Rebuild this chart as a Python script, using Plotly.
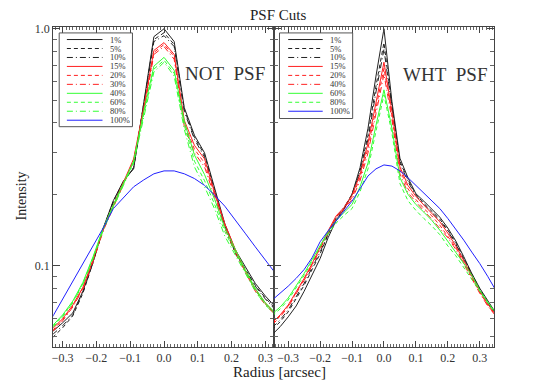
import plotly.graph_objects as go

# radius grids [arcsec]
x_not = [-0.33, -0.30, -0.27, -0.24, -0.21, -0.18, -0.15, -0.12, -0.09, -0.06, -0.03, 0.0,
         0.03, 0.06, 0.09, 0.12, 0.15, 0.18, 0.21, 0.24, 0.27, 0.30, 0.33]
x_wht = [-0.35, -0.325, -0.30, -0.275, -0.25, -0.225, -0.20, -0.175, -0.15, -0.125, -0.10,
         -0.075, -0.05, -0.025, 0.0, 0.025, 0.05, 0.075, 0.10, 0.125, 0.15, 0.175, 0.20,
         0.225, 0.25, 0.275, 0.30, 0.325, 0.35]

# NOT PSF cuts
not_labels = ["1%", "5%", "10%", "15%", "20%", "30%", "40%", "60%", "80%", "100%"]
not_1 = [0.0526, 0.0573, 0.0631, 0.0779, 0.104, 0.144, 0.188, 0.228, 0.256, 0.482, 0.926, 1.0,
         0.883, 0.464, 0.355, 0.299, 0.211, 0.150, 0.117, 0.0990, 0.0841, 0.0743, 0.0668]
not_5 = [0.0496, 0.0546, 0.0613, 0.0764, 0.103, 0.143, 0.187, 0.226, 0.259, 0.473, 0.900, 0.962,
         0.858, 0.455, 0.348, 0.293, 0.207, 0.147, 0.114, 0.0972, 0.0825, 0.0729, 0.0656]
not_10 = [0.0511, 0.0557, 0.0619, 0.0772, 0.103, 0.143, 0.185, 0.224, 0.259, 0.469, 0.883, 0.935,
          0.841, 0.447, 0.341, 0.287, 0.203, 0.145, 0.113, 0.0962, 0.0818, 0.0722, 0.0649]
not_15 = [0.0541, 0.0596, 0.0681, 0.0810, 0.106, 0.143, 0.180, 0.226, 0.282, 0.464, 0.810, 0.874,
          0.779, 0.410, 0.322, 0.282, 0.203, 0.150, 0.118, 0.0953, 0.0794, 0.0695, 0.0625]
not_20 = [0.0531, 0.0590, 0.0675, 0.0802, 0.105, 0.141, 0.178, 0.224, 0.279, 0.455, 0.794, 0.858,
          0.764, 0.398, 0.310, 0.271, 0.198, 0.147, 0.115, 0.0944, 0.0787, 0.0688, 0.0619]
not_30 = [0.0526, 0.0584, 0.0668, 0.0794, 0.104, 0.140, 0.176, 0.222, 0.276, 0.447, 0.779, 0.841,
          0.743, 0.387, 0.299, 0.261, 0.192, 0.144, 0.114, 0.0935, 0.0779, 0.0681, 0.0619]
not_40 = [0.0557, 0.0619, 0.0708, 0.0849, 0.109, 0.144, 0.180, 0.224, 0.276, 0.447, 0.695, 0.757,
          0.668, 0.406, 0.293, 0.242, 0.190, 0.144, 0.117, 0.0962, 0.0802, 0.0695, 0.0631]
not_60 = [0.0552, 0.0613, 0.0701, 0.0841, 0.108, 0.143, 0.178, 0.222, 0.274, 0.434, 0.675, 0.736,
          0.649, 0.391, 0.276, 0.228, 0.181, 0.139, 0.114, 0.0944, 0.0787, 0.0688, 0.0625]
not_80 = [0.0546, 0.0607, 0.0695, 0.0833, 0.107, 0.141, 0.176, 0.220, 0.271, 0.422, 0.656, 0.722,
          0.631, 0.376, 0.261, 0.215, 0.173, 0.133, 0.111, 0.0926, 0.0779, 0.0681, 0.0619]
not_100 = [0.0607, 0.0722, 0.0858, 0.102, 0.122, 0.144, 0.174, 0.194, 0.215, 0.230, 0.244, 0.251,
           0.251, 0.244, 0.233, 0.218, 0.198, 0.178, 0.157, 0.137, 0.120, 0.106, 0.0926]

# WHT PSF cuts
wht_labels = ["1%", "5%", "10%", "15%", "20%", "40%", "60%", "80%", "100%"]
wht_1 = [0.0511, 0.0552, 0.0607, 0.0675, 0.0779, 0.0917, 0.107, 0.131, 0.155, 0.173, 0.200, 0.259,
         0.380, 0.631, 1.0, 0.492, 0.284, 0.235, 0.201, 0.187, 0.173, 0.160, 0.144, 0.127, 0.109,
         0.0926, 0.0802, 0.0708, 0.0631]
wht_5 = [0.0536, 0.0579, 0.0637, 0.0722, 0.0825, 0.0962, 0.112, 0.135, 0.158, 0.174, 0.200, 0.251,
         0.355, 0.573, 0.874, 0.473, 0.276, 0.230, 0.200, 0.183, 0.170, 0.157, 0.141, 0.125, 0.107,
         0.0917, 0.0794, 0.0701, 0.0625]
wht_10 = [0.0546, 0.0590, 0.0649, 0.0736, 0.0841, 0.0981, 0.114, 0.136, 0.160, 0.176, 0.200, 0.246,
          0.341, 0.541, 0.818, 0.464, 0.271, 0.226, 0.198, 0.181, 0.168, 0.155, 0.140, 0.123, 0.106,
          0.0909, 0.0787, 0.0695, 0.0625]
wht_15 = [0.0573, 0.0619, 0.0681, 0.0772, 0.0883, 0.102, 0.120, 0.140, 0.162, 0.176, 0.198, 0.242,
          0.329, 0.492, 0.722, 0.447, 0.261, 0.218, 0.196, 0.180, 0.166, 0.153, 0.137, 0.121, 0.105,
          0.0900, 0.0779, 0.0688, 0.0619]
wht_20 = [0.0568, 0.0613, 0.0675, 0.0764, 0.0874, 0.101, 0.119, 0.139, 0.160, 0.174, 0.194, 0.235,
          0.313, 0.464, 0.681, 0.430, 0.254, 0.211, 0.190, 0.174, 0.162, 0.148, 0.133, 0.119, 0.103,
          0.0891, 0.0772, 0.0681, 0.0613]
wht_40 = [0.0562, 0.0607, 0.0668, 0.0757, 0.0866, 0.100, 0.118, 0.137, 0.158, 0.173, 0.190, 0.228,
          0.299, 0.438, 0.643, 0.414, 0.244, 0.203, 0.185, 0.170, 0.157, 0.144, 0.131, 0.117, 0.101,
          0.0883, 0.0764, 0.0675, 0.0613]
wht_60 = [0.0625, 0.0668, 0.0729, 0.0818, 0.0926, 0.106, 0.122, 0.139, 0.155, 0.168, 0.181, 0.215,
          0.271, 0.391, 0.552, 0.380, 0.235, 0.200, 0.181, 0.168, 0.155, 0.141, 0.127, 0.114, 0.102,
          0.0909, 0.0787, 0.0701, 0.0631]
wht_80 = [0.0613, 0.0656, 0.0715, 0.0802, 0.0909, 0.104, 0.120, 0.136, 0.151, 0.163, 0.174, 0.205,
          0.256, 0.369, 0.526, 0.362, 0.222, 0.188, 0.171, 0.158, 0.147, 0.135, 0.121, 0.110, 0.0981,
          0.0874, 0.0772, 0.0695, 0.0625]
wht_100 = [0.0715, 0.0764, 0.0818, 0.0883, 0.0962, 0.108, 0.126, 0.140, 0.154, 0.171, 0.187, 0.211,
           0.239, 0.256, 0.266, 0.263, 0.251, 0.235, 0.218, 0.203, 0.188, 0.174, 0.158, 0.143, 0.128,
           0.114, 0.102, 0.0900, 0.0787]

not_series = [not_1, not_5, not_10, not_15, not_20, not_30, not_40, not_60, not_80, not_100]
wht_series = [wht_1, wht_5, wht_10, wht_15, wht_20, wht_40, wht_60, wht_80, wht_100]

BLACK, RED, GREEN, BLUE = "#222222", "#ff2020", "#33ff33", "#2020ff"
DASH = "4px,3px"
DASHDOT = "6px,3px,1px,3px"
not_styles = [(BLACK, "solid"), (BLACK, DASH), (BLACK, DASHDOT),
              (RED, "solid"), (RED, DASH), (RED, DASHDOT),
              (GREEN, "solid"), (GREEN, DASH), (GREEN, DASHDOT),
              (BLUE, "solid")]
wht_styles = [(BLACK, "solid"), (BLACK, DASH), (BLACK, DASHDOT),
              (RED, "solid"), (RED, DASH), (RED, DASHDOT),
              (GREEN, "solid"), (GREEN, DASH),
              (BLUE, "solid")]

W, H = 550, 385
FONT = "Liberation Serif"


def px(x):
    return x / W


def py(y):
    return 1 - y / H


fig = go.Figure()

for lab, ys, (col, dash) in zip(not_labels, not_series, not_styles):
    fig.add_trace(go.Scatter(x=x_not, y=ys, mode="lines", name=lab, showlegend=False,
                             line=dict(color=col, width=1, dash=dash), xaxis="x", yaxis="y"))
for lab, ys, (col, dash) in zip(wht_labels, wht_series, wht_styles):
    fig.add_trace(go.Scatter(x=x_wht, y=ys, mode="lines", name=lab, showlegend=False,
                             line=dict(color=col, width=1, dash=dash), xaxis="x2", yaxis="y2"))

# hand-drawn legend boxes (IDL style)
shapes = []
annotations = []


def add_legend(x0, x1, y0, y1, lx0, lx1, tx, labels, styles):
    shapes.append(dict(type="rect", xref="paper", yref="paper", x0=px(x0), x1=px(x1),
                       y0=py(y1), y1=py(y0), line=dict(color="#555555", width=1)))
    for i, (lab, (col, dash)) in enumerate(zip(labels, styles)):
        yy = 35 + 9.08 * i
        shapes.append(dict(type="line", xref="paper", yref="paper", x0=px(lx0), x1=px(lx1),
                           y0=py(yy), y1=py(yy), line=dict(color=col, width=1, dash=dash)))
        annotations.append(dict(text=lab, xref="paper", yref="paper", x=px(tx), y=py(yy),
                                xanchor="left", yanchor="middle", showarrow=False,
                                font=dict(family=FONT, size=8.5, color="#333333")))


add_legend(58.3, 131.7, 28.3, 123.3, 66, 101.7, 107, not_labels, not_styles)
add_legend(279, 352.3, 28.3, 115, 287.7, 322.3, 327.5, wht_labels, wht_styles)

annotations += [
    dict(text="PSF Cuts", xref="paper", yref="paper", x=px(278), y=py(10), showarrow=False,
         xanchor="center", yanchor="middle", font=dict(family=FONT, size=15, color="#222222")),
    dict(text="Radius [arcsec]", xref="paper", yref="paper", x=px(279), y=py(372), showarrow=False,
         xanchor="center", yanchor="middle", font=dict(family=FONT, size=15, color="#222222")),
    dict(text="Intensity", xref="paper", yref="paper", x=px(21), y=py(193), showarrow=False,
         textangle=-90, xanchor="center", yanchor="middle",
         font=dict(family=FONT, size=14, color="#222222")),
    dict(text="NOT\u00a0 PSF", xref="paper", yref="paper", x=px(224), y=py(69), showarrow=False,
         xanchor="center", yanchor="middle", font=dict(family=FONT, size=19, color="#333333")),
    dict(text="WHT\u00a0 PSF", xref="paper", yref="paper", x=px(445), y=py(70), showarrow=False,
         xanchor="center", yanchor="middle", font=dict(family=FONT, size=19, color="#333333")),
]

xmaj = [-0.3, -0.2, -0.1, 0.0, 0.1, 0.2, 0.3]
xminor = [round(-0.34 + 0.01 * i, 2) for i in range(69)]
ymaj = [0.1, 1.0]
yminor = [0.05, 0.06, 0.07, 0.08, 0.09, 0.2, 0.3, 0.4, 0.5, 0.6, 0.7, 0.8, 0.9]

xcommon = dict(ticks="inside", ticklen=6, tickcolor="#444444", mirror="allticks",
               showline=True, linecolor="#444444", linewidth=1, showgrid=False, zeroline=False,
               tickmode="array", tickvals=xmaj, ticktext=["\u22120.3", "\u22120.2", "\u22120.1",
                                                          "0.0", "0.1", "0.2", "0.3"],
               tickfont=dict(family=FONT, size=12, color="#333333"),
               minor=dict(ticks="inside", ticklen=3, tickcolor="#666666",
                          tickmode="array", tickvals=xminor, showgrid=False))
ycommon = dict(type="log", range=[-1.342, 0.0086], domain=[py(346), py(22)],
               ticks="inside", ticklen=7, tickcolor="#444444", mirror="allticks",
               showline=True, linecolor="#444444", linewidth=1, showgrid=False, zeroline=False,
               tickmode="array", tickvals=ymaj, ticktext=["0.1", "1.0"],
               tickfont=dict(family=FONT, size=12, color="#333333"),
               minor=dict(ticks="inside", ticklen=4, tickcolor="#666666",
                          tickmode="array", tickvals=yminor, showgrid=False))

fig.update_layout(
    width=W, height=H,
    margin=dict(l=0, r=0, t=0, b=0),
    paper_bgcolor="white", plot_bgcolor="white",
    showlegend=False,
    xaxis=dict(xcommon, domain=[px(52.3), px(273)], range=[-0.328, 0.324], anchor="y"),
    yaxis=dict(ycommon, anchor="x"),
    xaxis2=dict(xcommon, domain=[px(273), px(494)], range=[-0.346, 0.345], anchor="y2"),
    yaxis2=dict(ycommon, anchor="x2", showticklabels=False),
    shapes=shapes,
    annotations=annotations,
)

# the page body has a default 8px margin; drop it so the figure sits at the window corner
fig.write_html("out.html", config={"displayModeBar": False},
               post_script="document.body.style.margin='0';")
